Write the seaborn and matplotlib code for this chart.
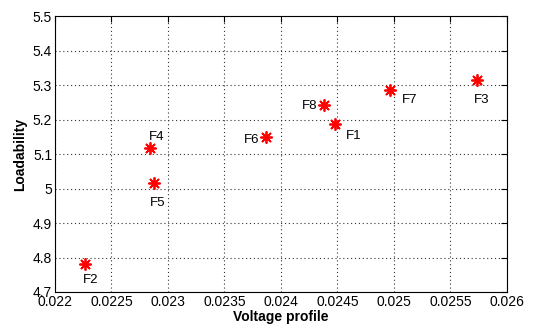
import numpy as np
import pandas as pd
import seaborn as sns
import matplotlib.pyplot as plt

# data
names = ['F1', 'F2', 'F3', 'F4', 'F5', 'F6', 'F7', 'F8']
voltage = [0.024475, 0.02227, 0.025735, 0.02284, 0.022879, 0.02387, 0.024962, 0.02438]
loadability = [5.187, 4.781, 5.314, 5.118, 5.015, 5.150, 5.287, 5.242]
# label offsets in pixels (dx, dy) relative to the marker
offsets = {'F1': (19, -12), 'F2': (5, -16), 'F3': (5, -20), 'F4': (7, 11),
           'F5': (3, -20), 'F6': (-15, -3), 'F7': (20, -10), 'F8': (-14, -1)}

df = pd.DataFrame({'name': names, 'v': voltage, 'l': loadability})

sns.set_style('white')
plt.rcParams['font.family'] = ['Liberation Sans', 'DejaVu Sans']
for k in ['text.color', 'axes.labelcolor', 'xtick.color', 'ytick.color']:
    plt.rcParams[k] = 'black'

fig = plt.figure(figsize=(5.33, 3.29), dpi=100)
ax = fig.add_axes([0.103, 0.1125, 0.848, 0.8385])

sns.scatterplot(data=df, x='v', y='l', ax=ax, marker=(8, 2, 0), color='red',
                s=65, linewidth=1.3, legend=False, zorder=3)

for n, x, y in zip(names, voltage, loadability):
    dx, dy = offsets[n]
    ax.annotate(n, (x, y), xytext=(dx, dy), textcoords='offset pixels',
                ha='center', va='center', fontsize=9.5)

ax.set_xlim(0.022, 0.026)
ax.set_ylim(4.7, 5.5)
ax.set_xticks(np.arange(0.022, 0.02601, 0.0005))
ax.set_xticklabels(['0.022', '0.0225', '0.023', '0.0235', '0.024', '0.0245',
                    '0.025', '0.0255', '0.026'])
ax.set_yticks(np.arange(4.7, 5.501, 0.1))
ax.set_yticklabels(['4.7', '4.8', '4.9', '5', '5.1', '5.2', '5.3', '5.4', '5.5'])
ax.grid(True, linestyle=(0, (1, 2.5)), color='#333333', linewidth=0.8)
ax.tick_params(direction='in', top=True, right=True, length=4, width=0.8,
               labelsize=10, pad=2)
for sp in ax.spines.values():
    sp.set_color('black')
    sp.set_linewidth(0.8)
ax.set_xlabel('Voltage profile', fontsize=10, fontweight='bold', labelpad=1)
ax.set_ylabel('Loadability', fontsize=10, fontweight='bold', labelpad=4)

fig.savefig('out.png', dpi=100)
